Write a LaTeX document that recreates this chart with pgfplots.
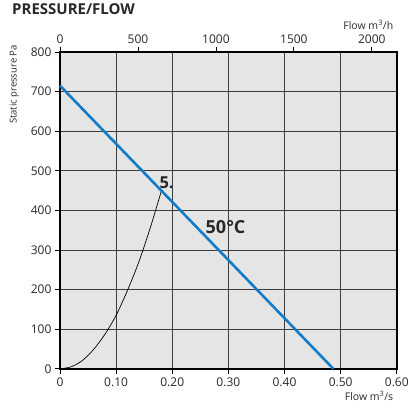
\documentclass[border=0pt]{standalone}
\usepackage{pgfplots}
\pgfplotsset{compat=1.18}
\usepackage{fontspec}
\setmainfont{Open Sans}
\definecolor{bg}{RGB}{229,229,229}
\definecolor{fanblue}{RGB}{18,124,200}
\definecolor{gridgray}{RGB}{60,60,60}
\definecolor{txt}{RGB}{40,40,40}

\begin{document}
\begin{tikzpicture}
% bottom / left axis: m3/s against Pa
\begin{axis}[
  scale only axis, width=337pt, height=317pt,
  xmin=0, xmax=0.6, ymin=0, ymax=800,
  xtick pos=left, ytick pos=left,
  tick align=outside, major tick length=5pt,
  tick style={black, line width=0.8pt},
  xtick={0,0.1,0.2,0.3,0.4,0.5,0.6},
  xticklabels={0,0.10,0.20,0.30,0.40,0.50,0.60},
  ytick={0,100,200,300,400,500,600,700,800},
  grid=major, grid style={gridgray, line width=0.8pt},
  axis line style={line width=2pt},
  axis background/.style={fill=bg},
  tick label style={font=\fontsize{12}{14}\selectfont, text=txt},
  /pgf/number format/assume math mode=true,
  xlabel={Flow m\textsuperscript{3}/s},
  xlabel style={at={(axis description cs:1,0)}, anchor=north east,
    yshift=-19pt, font=\fontsize{10.5}{12}\selectfont, text=txt},
  clip=false,
]
\addplot[black, line width=0.7pt, smooth] coordinates {
  (0,0) (0.02,5) (0.04,21) (0.06,49) (0.08,87) (0.10,135)
  (0.12,197) (0.14,268) (0.16,352) (0.18,446)};
\addplot[fanblue, line width=2.6pt] coordinates {(0,715) (0.487,0)};
\node[font=\bfseries\fontsize{16.5}{18}\selectfont, text=txt] at (axis cs:0.19,470) {5.};
\node[font=\bfseries\fontsize{18}{20}\selectfont, text=txt] at (axis cs:0.295,359) {50°C};
\node[anchor=base west, inner sep=0pt, font=\bfseries\fontsize{15}{17}\selectfont, text=txt]
  at ([xshift=-48pt, yshift=37pt]rel axis cs:0,1) {PRESSURE/FLOW};
\node[rotate=90, anchor=south east, inner sep=0pt, font=\fontsize{9.5}{11}\selectfont, text=txt]
  at ([xshift=-41pt, yshift=7pt]rel axis cs:0,1) {Static pressure Pa};
% frame of the whole picture
\path ([xshift=-60pt, yshift=-43pt]rel axis cs:0,0) rectangle ([xshift=14pt, yshift=52pt]rel axis cs:1,1);
\end{axis}
% top axis: m3/h
\begin{axis}[
  scale only axis, width=337pt, height=317pt,
  xmin=0, xmax=2160, ymin=0, ymax=800,
  axis x line*=top, hide y axis,
  xtick={0,500,1000,1500,2000},
  tick align=outside, major tick length=5pt,
  tick style={black, line width=0.8pt},
  axis line style={line width=2pt},
  tick label style={font=\fontsize{12}{14}\selectfont, text=txt},
  /pgf/number format/assume math mode=true,
  /pgf/number format/1000 sep={},
  xlabel={Flow m\textsuperscript{3}/h},
  xlabel style={at={(axis description cs:1,1)}, anchor=south east,
    yshift=19pt, font=\fontsize{10.5}{12}\selectfont, text=txt},
]
\end{axis}
\end{tikzpicture}
\end{document}
